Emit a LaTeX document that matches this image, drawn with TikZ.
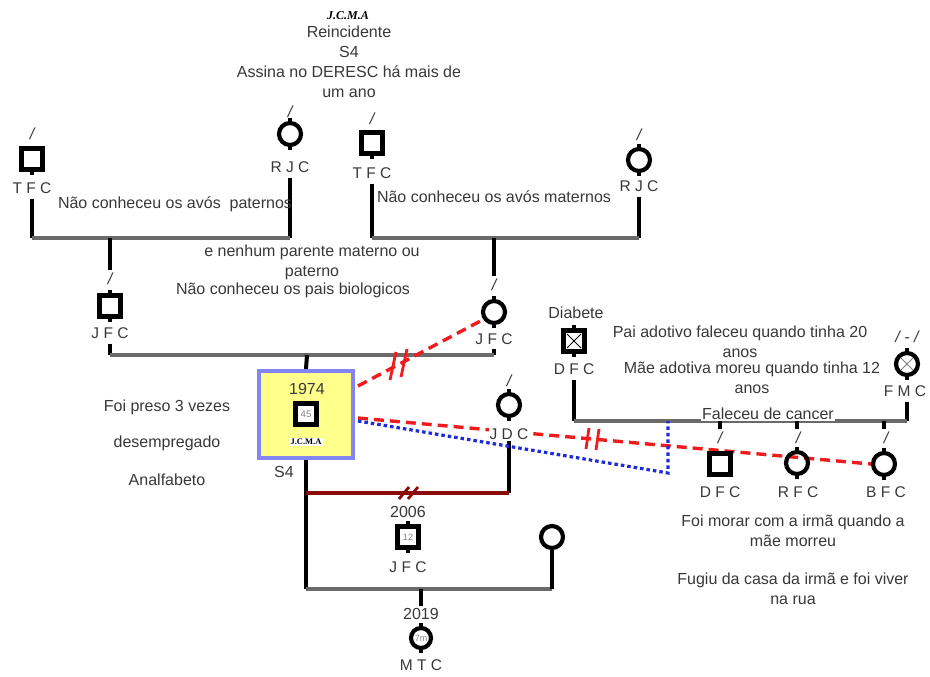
\documentclass[tikz,border=0pt]{standalone}
\usepackage{fontspec}
\setmainfont{Liberation Sans}
\newfontfamily\tnr{Liberation Serif}
\usetikzlibrary{calc}
\pgfdeclarelayer{bg}
\pgfsetlayers{bg,main}
\definecolor{txt}{HTML}{383838}
\definecolor{sib}{HTML}{6A6A6A}
\definecolor{rdash}{HTML}{EE1C1C}
\definecolor{bdot}{HTML}{1F2BD6}
\definecolor{dred}{HTML}{8B0A0A}
\definecolor{pbfill}{HTML}{FFFF8C}
\definecolor{pbline}{HTML}{8484F2}
\tikzset{
  txtnode/.style={font=\fontsize{16}{20}\selectfont, text=txt, inner sep=0pt, align=center},
  tag/.style={txtnode, font=\fontsize{15.5}{18}\selectfont, inner sep=1pt},
  slash/.style={txtnode, font=\fontsize{16}{17}\selectfont\itshape},
  male/.style={draw=black, line width=4.2pt, minimum size=21pt, inner sep=0pt},
  female/.style={circle, draw=black, line width=4.2pt, minimum size=22pt, inner sep=0pt},
  vline/.style={line width=4pt, black},
  hline/.style={line width=4pt, sib},
  stub/.style={line width=3.4pt, black},
  redd/.style={rdash, line width=3.4pt, dash pattern=on 10pt off 6pt},
  bluedot/.style={bdot, line width=3.2pt, dash pattern=on 3.5pt off 3pt},
  breakmark/.style={line width=2.8pt},
}
\begin{document}
\begin{tikzpicture}[x=1pt, y=-1pt]
\useasboundingbox (0,0) rectangle (930,677);

% ---------- header notes ----------
\node[txtnode, font=\tnr\bfseries\itshape\fontsize{12}{14}\selectfont, text=black] (hdr) at (348,16) {J.C.M.A};
\node[txtnode] (hdrtxt) at (349,62) {Reincidente\\S4\\Assina no DERESC há mais de\\um ano};

% ---------- paternal grandparents ----------
\node[slash] (s-pgf) at (32,134) {/};
\node[male] (pgf) at (32,159) {};
\node[tag] (l-pgf) at (32,188) {T F C};
\node[slash] (s-pgm) at (290,112) {/};
\node[female] (pgm) at (290,134) {};
\node[tag] (l-pgm) at (290,167) {R J C};
\node[txtnode] (t-pat) at (175,204) {Não conheceu os avós\ \ paternos};

% ---------- maternal grandparents ----------
\node[slash] (s-mgf) at (372,119) {/};
\node[male] (mgf) at (372,143) {};
\node[tag] (l-mgf) at (372,173) {T F C};
\node[slash] (s-mgm) at (639,135) {/};
\node[female] (mgm) at (639,160) {};
\node[tag] (l-mgm) at (639,186) {R J C};
\node[txtnode] (t-mat) at (494,197) {Não conheceu os avós maternos};

% ---------- biological parents ----------
\node[slash] (s-fa) at (110,279) {/};
\node[male] (fa) at (110,306) {};
\node[tag] (l-fa) at (110,333) {J F C};
\node[slash] (s-mo) at (494,285) {/};
\node[female] (mo) at (494,312) {};
\node[tag] (l-mo) at (494,339) {J F C};
\node[txtnode] (t-par1) at (312,262) {e nenhum parente materno ou\\paterno};
\node[txtnode] (t-par2) at (293,290) {Não conheceu os pais biologicos};

% ---------- index person ----------
\node[draw=pbline, fill=pbfill, line width=4pt, minimum width=94pt, minimum height=87pt, inner sep=0pt] (pro) at (306,414.5) {};
\node[txtnode] (pro-yr) at (307,389) {1974};
\node[male, minimum size=21pt, line width=4.2pt, fill=white] (pro-sym) at (306,414) {\fontsize{9.5}{10}\selectfont\color{gray}45};
\node[fill=white, inner sep=1.5pt, font=\tnr\bfseries\fontsize{8.5}{9}\selectfont] (pro-name) at (306,442) {J.C.M.A};
\node[txtnode] (pro-s4) at (284,472) {S4};
\node[txtnode] (t-pro1) at (167,407) {Foi preso 3 vezes};
\node[txtnode] (t-pro2) at (167,443) {desempregado};
\node[txtnode] (t-pro3) at (167,480) {Analfabeto};

% ---------- partners and children ----------
\node[slash] (s-jdc) at (509,381) {/};
\node[female] (jdc) at (509,405) {};
\node[tag, fill=white] (l-jdc) at (509,434) {J D C};
\node[txtnode] (son-yr) at (408,512) {2006};
\node[male] (son) at (408,537) {\fontsize{9}{9}\selectfont\color{gray}12};
\node[tag] (l-son) at (408,567) {J F C};
\node[female] (ptn) at (552,537) {};
\node[txtnode] (gd-yr) at (421,614) {2019};
\node[female, minimum size=20pt] (gd) at (421,638) {\fontsize{9}{9}\selectfont\color{gray}7m};
\node[tag] (l-gd) at (421,665) {M T C};

% ---------- adoptive family ----------
\node[txtnode] (dfc-note) at (576,313) {Diabete};
\node[male] (dfc) at (574,341) {};
\node[tag] (l-dfc) at (574,369) {D F C};
\node[slash] (s-fmc) at (907,337) {/ - /};
\node[female] (fmc) at (907,364) {};
\node[tag] (l-fmc) at (905,391) {F M C};
\node[txtnode] (t-ad1) at (740,342) {Pai adotivo faleceu quando tinha 20\\anos};
\node[txtnode] (t-ad2) at (752,378) {Mãe adotiva moreu quando tinha 12\\anos};
\node[txtnode, fill=white, inner sep=1pt] (t-ad3) at (768,414) {Faleceu de cancer};

\node[slash] (s-s1) at (720,438) {/};
\node[male] (s1) at (720,464) {};
\node[tag] (l-s1) at (720,492) {D F C};
\node[slash] (s-s2) at (798,438) {/};
\node[female] (s2) at (797,463) {};
\node[tag] (l-s2) at (798,492) {R F C};
\node[slash] (s-s3) at (886,438) {/};
\node[female] (s3) at (884,464) {};
\node[tag] (l-s3) at (886,492) {B F C};
\node[txtnode] (t-s1) at (793,531) {Foi morar com a irmã quando a\\mãe morreu};
\node[txtnode] (t-s2) at (793,589) {Fugiu da casa da irmã e foi viver\\na rua};

% ---------- junction points ----------
\coordinate (pj) at (110,238);
\coordinate (mj) at (494,238);
\coordinate (cj) at (307,355);
\coordinate (fj) at (421,589);
\coordinate (aj) at (574,421);
\coordinate (pr1) at (358,386);
\coordinate (pr2) at (358,418);
\coordinate (pr3) at (358,421);
\coordinate (bc) at (668,473);
\coordinate (bj) at (668,421);
\coordinate (rj) at (508,493);

% ---------- crossed symbols ----------
\draw[line width=1pt] ([shift={(-7,-7)}]dfc.center) -- ([shift={(7,7)}]dfc.center)
                      ([shift={(-7,7)}]dfc.center) -- ([shift={(7,-7)}]dfc.center);
\draw[line width=1pt, gray] ([shift={(-6,-6)}]fmc.center) -- ([shift={(6,6)}]fmc.center)
                      ([shift={(-6,6)}]fmc.center) -- ([shift={(6,-6)}]fmc.center);

% ---------- small stubs on the symbols ----------
\foreach \n in {pgm,mgm,fa,mo,jdc,son,gd,dfc,fmc,s2,s3}
  \draw[stub] (\n.north) -- ++(0,-3) (\n.south) -- ++(0,3);
\foreach \n in {pgf,mgf}
  \draw[stub] (\n.south) -- ++(0,3);

\begin{pgfonlayer}{bg}
  % paternal sibship
  \draw[vline] ([yshift=-4pt]l-pgf.south) -- (pgf |- pj);
  \draw[vline] ([yshift=-4pt]l-pgm.south) -- (pgm |- pj);
  \draw[hline] (pgf |- pj) -- (pgm |- pj);
  \draw[vline] (pj) -- ([yshift=3pt]s-fa.north);
  % maternal sibship
  \draw[vline] ([yshift=-4pt]l-mgf.south) -- (mgf |- mj);
  \draw[vline] ([yshift=-4pt]l-mgm.south) -- (mgm |- mj);
  \draw[hline] (mgf |- mj) -- (mgm |- mj);
  \draw[vline] (mj) -- ([yshift=3pt]s-mo.north);
  % parents
  \draw[vline] ([yshift=-4pt]l-fa.south) -- (fa |- cj);
  \draw[vline] ([yshift=-3pt]l-mo.south) -- (mo |- cj);
  \draw[hline] (fa |- cj) -- (mo |- cj);
  \draw[vline] (cj) -- (pro.north);
  % index person, partners, children
  \draw[vline] (pro.south) -- (pro |- fj);
  \draw[hline] (pro |- fj) -- (ptn |- fj);
  \draw[vline] (ptn.south) -- (ptn |- fj);
  \draw[vline] (fj) -- ([yshift=2pt]gd-yr.north);
  \draw[vline] (jdc |- l-jdc.south) -- (jdc |- rj);
  \draw[line width=3.2pt, dred] (pro |- rj) -- (jdc |- rj);
  % adoptive parents and siblings
  \draw[vline] ([yshift=-4pt]l-dfc.south) -- (aj);
  \draw[vline] ([yshift=-4pt]l-fmc.south -| fmc) -- (fmc |- aj);
  \draw[hline] (aj) -- (fmc |- aj);
  \foreach \k in {s1,s2,s3}
    \draw[stub] (\k |- aj) -- ++(0,8);
  % relationship lines
  \draw[redd] (pr1) -- (mo.215);
  \draw[redd] (pr2) -- (s3.west);
  \draw[bluedot] (pr3) -- (bc) -- (bj);
\end{pgfonlayer}

% ---------- separation marks ----------
\draw[breakmark, rdash] (390,380) -- (396,352) (401,377) -- (407,349);
\draw[breakmark, rdash] (586,449) -- (589,428) (596,450) -- (599,429);
\draw[breakmark, dred] (399,499) -- (409,487) (408,499) -- (418,487);
\end{tikzpicture}
\end{document}
